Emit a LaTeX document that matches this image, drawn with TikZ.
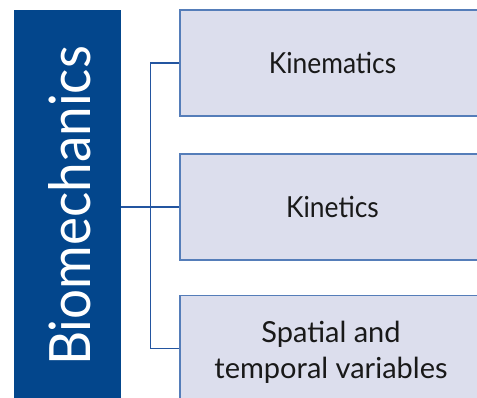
\documentclass[tikz,border=0pt]{standalone}
\usepackage{fontspec}
\setmainfont{Lato}
\newfontfamily\boxfont{Lato}[FakeStretch=0.91]
\newfontfamily\titlefont{Lato}[FakeStretch=0.93]
\definecolor{navy}{RGB}{3,70,140}
\definecolor{boxfill}{RGB}{220,222,237}
\definecolor{boxline}{RGB}{85,125,185}
\definecolor{linkblue}{RGB}{35,85,160}
\definecolor{ink}{RGB}{25,25,25}
\tikzset{
  titlebox/.style={fill=navy, draw=none, minimum width=107pt, minimum height=390pt,
    inner sep=0pt, text=white},
  topicbox/.style={fill=boxfill, draw=boxline, line width=1.4pt, minimum width=305pt,
    minimum height=106pt, inner sep=0pt, text=ink, align=center,
    font=\boxfont\fontsize{29}{36}\selectfont},
  link/.style={draw=linkblue, line width=1.3pt}
}
\begin{document}
\begin{tikzpicture}[x=1pt,y=-1pt]
  \useasboundingbox (0,0) rectangle (477,398);
  \fill[white] (0,0) rectangle (477,398);
  % left title bar
  \node[titlebox] (bio) at (67,205) {};
  \node[rotate=90, text=white, font=\titlefont\fontsize{57}{60}\selectfont, inner sep=0pt]
    (biotext) at (69.5,206) {Biomechanics};
  % topic boxes
  \node[topicbox] (kinem) at (332.5,63) {Kinematics};
  \node[topicbox] (kinet) at (332.5,207) {Kinetics};
  \node[topicbox] (spat) at (332.5,348.5) {};
  \node[text=ink, align=center, inner sep=0pt, font=\fontsize{29}{36}\selectfont]
    (spattext) at (331,352) {Spatial and\\temporal variables};
  % bracket connectors
  \coordinate (bus) at (150.5,206);
  \draw[link] (bio.east |- kinet.west) -- (kinet.west);
  \draw[link] (kinem.west) -- (kinem.west -| bus) -- (spat.west -| bus) -- (spat.west);
\end{tikzpicture}
\end{document}
